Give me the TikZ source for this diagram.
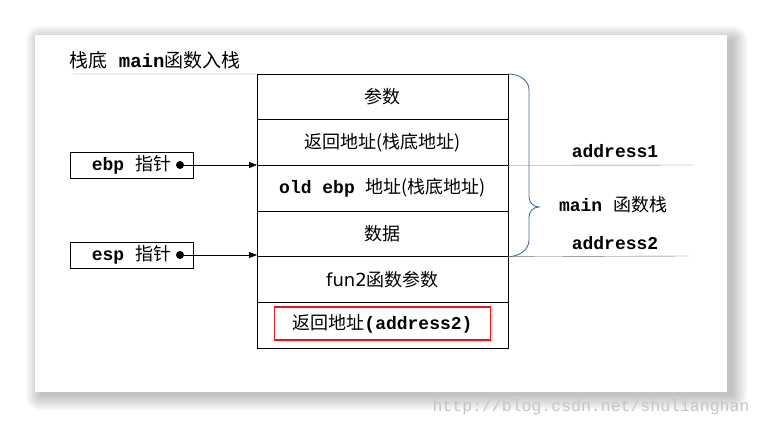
\documentclass[tikz,border=0pt]{standalone}
\usepackage{fontspec}
\setmonofont{Liberation Mono}
\setsansfont{DejaVu Sans}
\newfontfamily\zhfont{Noto Sans CJK SC}
\usetikzlibrary{positioning,arrows.meta,shadows}
\newcommand{\zh}[1]{{\zhfont #1}}
\newcommand{\cw}[1]{{\ttfamily\bfseries #1}}
\definecolor{bracecol}{HTML}{4A6E9E}
\definecolor{redbox}{HTML}{E3191C}

\begin{document}
\begin{tikzpicture}[x=1pt,y=-1pt,>={Triangle[length=8pt,width=6pt]},
  cell/.style={draw,minimum width=251pt,minimum height=45.67pt,inner sep=0pt,outer sep=0pt,
    font=\fontsize{18}{20}\selectfont},
  ptrbox/.style={draw,minimum width=123pt,minimum height=26pt,inner sep=0pt,
    font=\fontsize{18}{20}\selectfont},
  dot/.style={circle,fill,inner sep=0pt,minimum size=8pt},
  lbl/.style={font=\fontsize{18}{20}\selectfont},
  addrline/.style={gray!90!black}]
  % page + card with soft shadow
  \fill[white] (0,0) rectangle (762,427);
  \useasboundingbox (0,0) rectangle (762,427);
  \foreach \s in {0,2,...,14}
    \fill[black,opacity=0.03,rounded corners=\s pt] (40-\s,40-\s) rectangle (733+\s,396+\s);
  \fill[white] (35,35) rectangle (727,392);
  % title
  \node[lbl,font=\fontsize{19}{21}\selectfont] (title) at (155,60) {\zh{栈底}\cw{ main}\zh{函数入栈}};
  \coordinate (tl) at (73,74);
  % stack cells
  \node[cell] (r1) at (382.5,96.8) {\zh{参数}};
  \node[cell,below=0pt of r1] (r2) {\zh{返回地址(栈底地址)}};
  \node[cell,below=0pt of r2] (r3) {\cw{old ebp }\zh{地址(栈底地址)}};
  \node[cell,below=0pt of r3] (r4) {\zh{数据}};
  \node[cell,below=0pt of r4] (r5) {{\sffamily fun2}\zh{函数参数}};
  \node[cell,below=0pt of r5] (r6) {};
  \node[draw=redbox,line width=1.6pt,minimum width=216pt,minimum height=33pt,inner sep=0pt,
    drop shadow={opacity=0.25,shadow xshift=2pt,shadow yshift=-2pt},fill=white,
    font=\fontsize{18}{20}\selectfont] (ret) at ([yshift=1.5pt]r6.center) {\zh{返回地址}\cw{(address2)}};
  \draw[gray] (tl) -- (r1.north west);
  % pointers
  \node[ptrbox] (ebp) at (131.5,165) {\cw{ebp }\zh{指针}\hspace{14pt}};
  \node[dot] (ebpdot) at (180,165) {};
  \node[ptrbox] (esp) at (131.5,255) {\cw{esp }\zh{指针}\hspace{14pt}};
  \node[dot] (espdot) at (180,255) {};
  \draw[->] (ebpdot) -- (ebpdot -| r3.west);
  \draw[->] (espdot) -- (espdot -| r5.west);
  % main stack brace
  \draw[bracecol,line width=0.9pt] (r1.north east) to[out=0,in=90] ++(21,16) -- ++(0,107)
    to[out=-90,in=180] ++(10,10) to[out=180,in=90] ++(-10,10) -- ++(0,23)
    to[out=-90,in=0] (r4.south east);
  \node[lbl] (mainlbl) at (613,205) {\cw{main }\zh{函数栈}};
  % address marks
  \coordinate (a1) at (693,165);
  \coordinate (a2) at (689,256);
  \draw[addrline] (r3.north east) -- (a1);
  \draw[addrline] (r5.north east) -- (a2);
  \node[lbl] (addr1) at (615,151) {\cw{address1}};
  \node[lbl] (addr2) at (615,243) {\cw{address2}};
  % watermark
  \node[gray!45,font=\ttfamily\fontsize{16.5}{18}\selectfont] (wmark) at (591,407) {http://blog.csdn.net/shulianghan};
\end{tikzpicture}
\end{document}
